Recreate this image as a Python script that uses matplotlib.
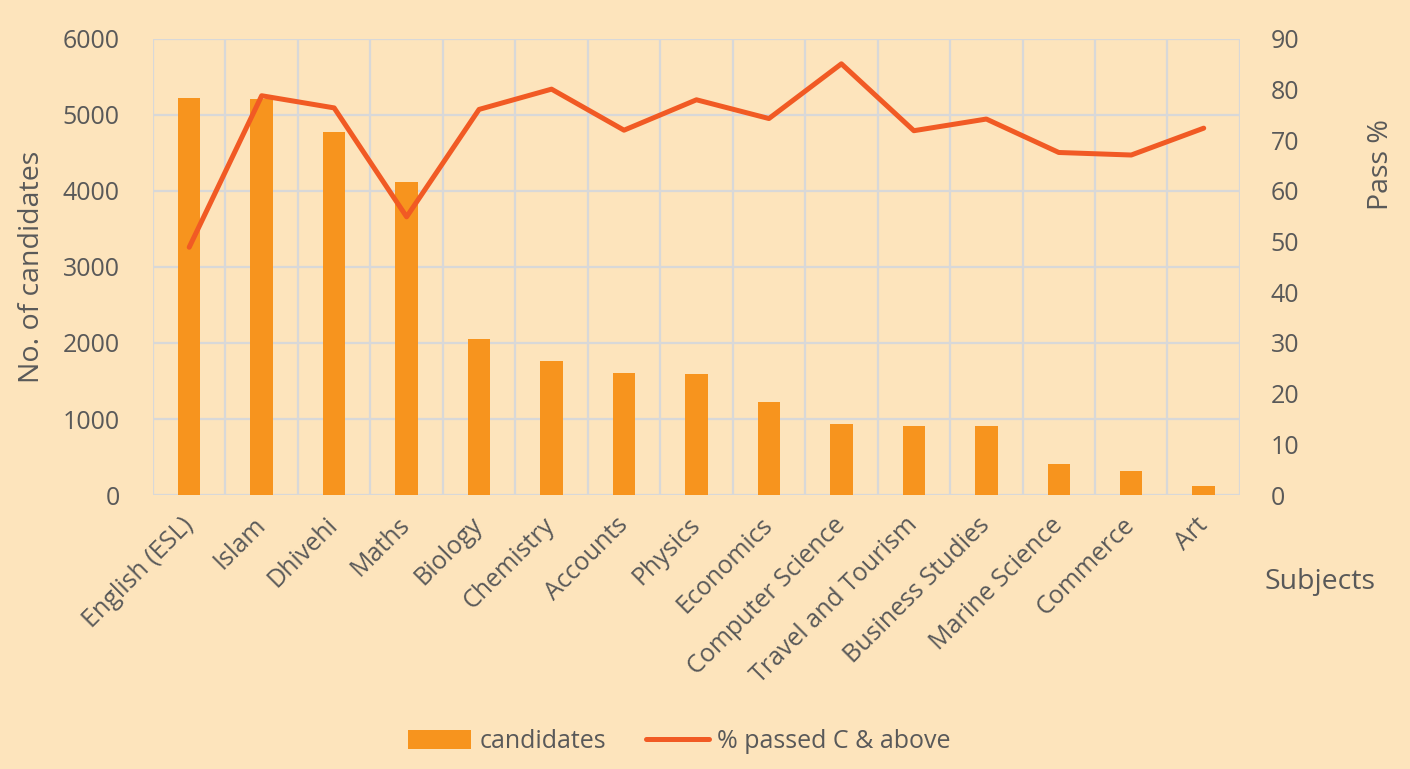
import matplotlib.pyplot as plt
import numpy as np

subjects = ["English (ESL)", "Islam", "Dhivehi", "Maths", "Biology", "Chemistry",
            "Accounts", "Physics", "Economics", "Computer Science", "Travel and Tourism",
            "Business Studies", "Marine Science", "Commerce", "Art"]
candidates = [5224, 5205, 4776, 4118, 2053, 1767, 1605, 1596, 1228, 938, 908, 904, 412, 320, 118]
pass_pct = [48.9, 78.8, 76.4, 54.9, 76.1, 80.1, 72.0, 78.0, 74.3, 85.1, 71.9, 74.2, 67.6, 67.1, 72.4]

bg = "#FDE4BC"
bar_color = "#F7941E"
line_color = "#F15A24"
grid_color = "#D8D8D8"
text_color = "#595959"

plt.rcParams["font.family"] = ["Open Sans", "DejaVu Sans"]

fig = plt.figure(figsize=(14.1, 7.69), dpi=100, facecolor=bg)
ax = fig.add_axes([0.1085, 0.3563, 0.7709, 0.593])
ax.set_facecolor(bg)
x = np.arange(len(subjects))

bars = ax.bar(x, candidates, width=0.31, color=bar_color, zorder=2, label="candidates")
ax.set_xlim(-0.5, len(subjects) - 0.5)
ax.set_ylim(0, 6000)
ax.set_yticks(np.arange(0, 6001, 1000))

# gridlines: horizontal at ticks, vertical between categories
ax.set_xticks(x)
ax.set_xticks(np.arange(-0.5, len(subjects), 1), minor=True)
ax.grid(axis="y", color=grid_color, linewidth=1.6, zorder=0)
ax.grid(axis="x", which="minor", color=grid_color, linewidth=1.6, zorder=0)
ax.tick_params(which="both", length=0)
for s in ax.spines.values():
    s.set_visible(False)

ax.set_xticklabels(subjects, rotation=45, ha="right", va="center", rotation_mode="anchor",
                   fontsize=18, color=text_color)
ax.tick_params(axis="x", pad=19)
ax.tick_params(axis="y", labelsize=18, labelcolor=text_color, pad=24)
ax.set_ylabel("No. of candidates", fontsize=20.5, color=text_color, labelpad=12)

ax2 = ax.twinx()
line, = ax2.plot(x, pass_pct, color=line_color, linewidth=3.6, zorder=3,
                 solid_capstyle="round", solid_joinstyle="round",
                 label="% passed C & above")
ax2.set_ylim(0, 90)
ax2.set_yticks(np.arange(0, 91, 10))
ax2.tick_params(length=0, labelsize=18, labelcolor=text_color, pad=22)
for s in ax2.spines.values():
    s.set_visible(False)
ax2.set_ylabel("Pass %", fontsize=20.5, color=text_color)
ax2.yaxis.set_label_coords(1.117, 0.725)

fig.text(0.936, 0.243, "Subjects", fontsize=20.5, color=text_color, ha="center", va="center")

fig.legend(handles=[bars, line], loc="center", bbox_to_anchor=(0.482, 0.036), ncol=2,
           frameon=False, fontsize=18, labelcolor=text_color,
           handlelength=2.5, handleheight=0.8, columnspacing=1.6, handletextpad=0.35)

fig.savefig("out.png", dpi=100, facecolor=bg)
